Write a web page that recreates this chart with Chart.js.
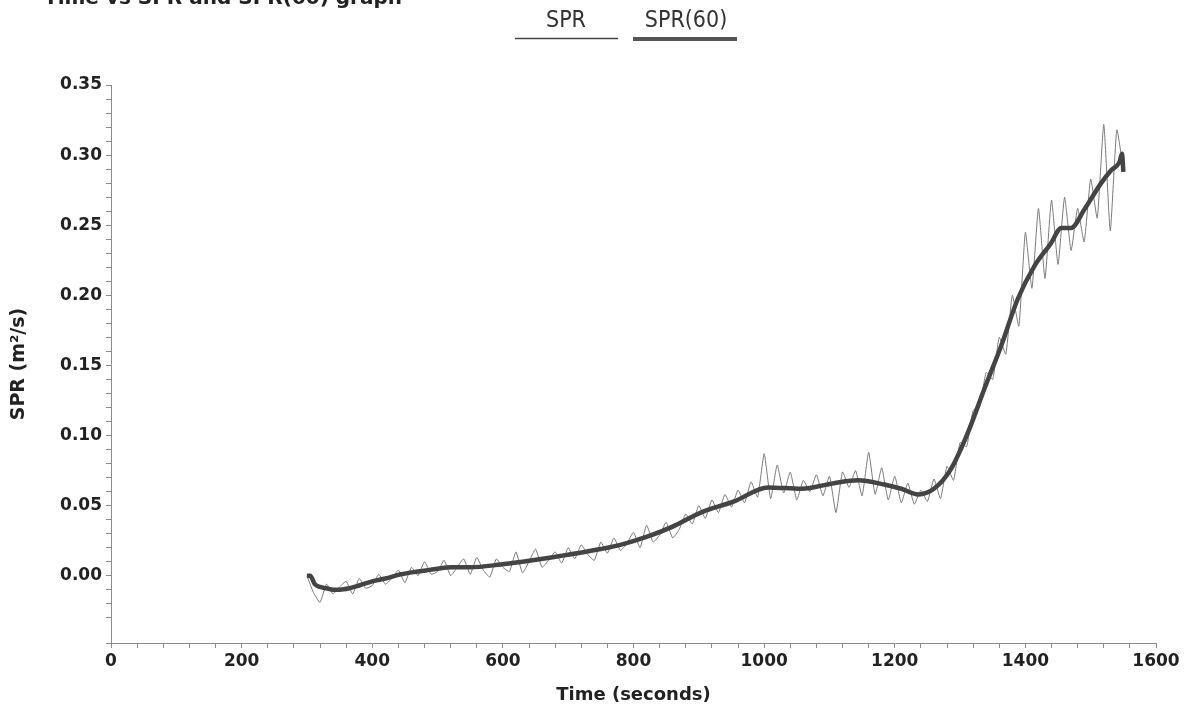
<!DOCTYPE html>
<html>
<head>
<meta charset="utf-8">
<script src="https://cdn.jsdelivr.net/npm/chart.js@4/dist/chart.umd.min.js"></script>
<style>
  html, body { margin: 0; padding: 0; background: #fff; }
  #wrap { width: 1184px; height: 710px; position: relative; }
</style>
</head>
<body>
<div id="wrap"><canvas id="chart"></canvas></div>
<script>
// raw SPR, sampled every 10 s
const sprTime = [
  300, 310, 320, 330, 340, 350, 360, 370, 380, 390,
  400, 410, 420, 430, 440, 450, 460, 470, 480, 490,
  500, 510, 520, 530, 540, 550, 560, 570, 580, 590,
  600, 610, 620, 630, 640, 650, 660, 670, 680, 690,
  700, 710, 720, 730, 740, 750, 760, 770, 780, 790,
  800, 810, 820, 830, 840, 850, 860, 870, 880, 890,
  900, 910, 920, 930, 940, 950, 960, 970, 980, 990,
  1000, 1010, 1020, 1030, 1040, 1050, 1060, 1070, 1080, 1090,
  1100, 1110, 1120, 1130, 1140, 1150, 1160, 1170, 1180, 1190,
  1200, 1210, 1220, 1230, 1240, 1250, 1260, 1270, 1280, 1290,
  1300, 1310, 1320, 1330, 1340, 1350, 1360, 1370, 1380, 1390,
  1400, 1410, 1420, 1430, 1440, 1450, 1460, 1470, 1480, 1490,
  1500, 1510, 1520, 1530, 1540, 1550
];
const sprValue = [
  0.000, -0.012, -0.019, -0.006, -0.013, -0.008, -0.004, -0.013, -0.002, -0.009,
  -0.007, 0.001, -0.006, -0.002, 0.004, -0.005, 0.006, 0.000, 0.010, 0.001,
  0.003, 0.011, 0.000, 0.006, 0.012, 0.001, 0.013, 0.004, -0.001, 0.012,
  0.006, 0.003, 0.017, 0.002, 0.010, 0.019, 0.006, 0.011, 0.017, 0.009,
  0.020, 0.012, 0.022, 0.015, 0.011, 0.024, 0.016, 0.027, 0.018, 0.023,
  0.031, 0.020, 0.036, 0.024, 0.029, 0.038, 0.027, 0.033, 0.044, 0.037,
  0.050, 0.041, 0.054, 0.045, 0.058, 0.049, 0.061, 0.052, 0.067, 0.056,
  0.087, 0.055, 0.079, 0.059, 0.074, 0.054, 0.068, 0.060, 0.072, 0.057,
  0.071, 0.045, 0.074, 0.063, 0.075, 0.057, 0.088, 0.058, 0.077, 0.054,
  0.071, 0.052, 0.066, 0.051, 0.061, 0.053, 0.069, 0.055, 0.078, 0.068,
  0.095, 0.092, 0.118, 0.121, 0.145, 0.140, 0.170, 0.158, 0.200, 0.178,
  0.245, 0.205, 0.262, 0.212, 0.268, 0.222, 0.270, 0.232, 0.262, 0.238,
  0.283, 0.255, 0.322, 0.246, 0.318, 0.290
];

// SPR(60) moving average
const spr60Time = [
  300, 305, 312, 320, 330, 340, 350, 365, 380, 400,
  420, 444, 470, 500, 521, 550, 597, 630, 674, 700,
  750, 780, 822, 860, 903, 954, 1006, 1057, 1107, 1144,
  1184, 1210, 1236, 1260, 1286, 1312, 1337, 1363, 1388, 1414,
  1439, 1455, 1470, 1490, 1516, 1531, 1544, 1548, 1550
];
const spr60Value = [
  0.000, 0.000, -0.006, -0.008, -0.009, -0.010, -0.010, -0.009, -0.007, -0.004,
  -0.002, 0.001, 0.003, 0.005, 0.006, 0.006, 0.008, 0.010, 0.013, 0.015,
  0.019, 0.022, 0.028, 0.035, 0.045, 0.053, 0.063, 0.062, 0.066, 0.068,
  0.065, 0.062, 0.058, 0.062, 0.076, 0.102, 0.133, 0.164, 0.197, 0.221,
  0.237, 0.248, 0.248, 0.261, 0.280, 0.289, 0.295, 0.301, 0.288
];

const xMajorStep = 200;
const yMajorStep = 0.05;

const tickFont = { family: 'DejaVu Sans', weight: 'bold', size: 17 };
const axisGrey = '#8a8a8a';

// header: cut-off caption + custom legend (text above a line sample)
const headerPlugin = {
  id: 'header',
  afterDraw(chart) {
    const ctx = chart.ctx;
    ctx.save();
    ctx.fillStyle = '#222';
    ctx.font = 'bold 20px "DejaVu Sans"';
    ctx.textAlign = 'right';
    ctx.textBaseline = 'alphabetic';
    ctx.fillText('Time vs SPR and SPR(60) graph', 402, 4);

    ctx.fillStyle = '#333';
    ctx.font = '23px "DejaVu Sans Condensed", "Liberation Sans Narrow", "DejaVu Sans"';
    ctx.textAlign = 'center';
    ctx.fillText('SPR', 566, 27);
    ctx.fillText('SPR(60)', 686, 27);

    ctx.strokeStyle = '#444';
    ctx.lineWidth = 1.5;
    ctx.beginPath(); ctx.moveTo(515, 38.5); ctx.lineTo(618, 38.5); ctx.stroke();
    ctx.strokeStyle = '#555';
    ctx.lineWidth = 4;
    ctx.beginPath(); ctx.moveTo(633, 39); ctx.lineTo(737, 39); ctx.stroke();
    ctx.restore();
  }
};

new Chart(document.getElementById('chart'), {
  type: 'line',
  data: {
    datasets: [
      {
        label: 'SPR(60)',
        data: spr60Time.map((t, i) => ({ x: t, y: spr60Value[i] })),
        borderColor: '#444',
        borderWidth: 4.5,
        pointRadius: 0,
        cubicInterpolationMode: 'monotone',
        fill: false,
      },
      {
        label: 'SPR',
        data: sprTime.map((t, i) => ({ x: t, y: sprValue[i] })),
        borderColor: '#7a7a7a',
        borderWidth: 1,
        pointRadius: 0,
        tension: 0.15,
        fill: false,
      },
    ],
  },
  options: {
    responsive: true,
    maintainAspectRatio: false,
    animation: false,
    layout: { padding: { top: 85, right: 28, left: 0, bottom: 0 } },
    plugins: {
      legend: { display: false },
      tooltip: { enabled: false },
    },
    scales: {
      x: {
        type: 'linear',
        min: 0,
        max: 1600,
        afterFit(scale) { scale.height = 67; },
        border: { color: axisGrey, width: 1 },
        grid: { drawOnChartArea: false, drawTicks: true, tickLength: 5, color: axisGrey },
        ticks: {
          stepSize: 40,
          autoSkip: false,
          maxRotation: 0,
          padding: 3,
          color: '#222',
          font: tickFont,
          callback: v => (Math.round(v) % xMajorStep === 0 ? String(Math.round(v)) : ''),
        },
        title: {
          display: true,
          text: 'Time (seconds)',
          color: '#222',
          font: { family: 'DejaVu Sans', weight: 'bold', size: 18 },
          padding: { top: 0, bottom: 4 },
        },
      },
      y: {
        min: -0.048,
        max: 0.35,
        afterFit(scale) { scale.width = 111; },
        border: { color: axisGrey, width: 1 },
        grid: { drawOnChartArea: false, drawTicks: true, tickLength: 5, color: axisGrey },
        ticks: {
          stepSize: 0.01,
          autoSkip: false,
          padding: 4,
          color: '#222',
          font: tickFont,
          callback: v => {
            const k = v / yMajorStep;
            return Math.abs(k - Math.round(k)) < 1e-6 ? v.toFixed(2) : '';
          },
        },
        title: {
          display: true,
          text: 'SPR (m²/s)',
          color: '#222',
          font: { family: 'DejaVu Sans', weight: 'bold', size: 19 },
          padding: { top: 8, bottom: 0 },
        },
      },
    },
  },
  plugins: [headerPlugin],
});
</script>
</body>
</html>
